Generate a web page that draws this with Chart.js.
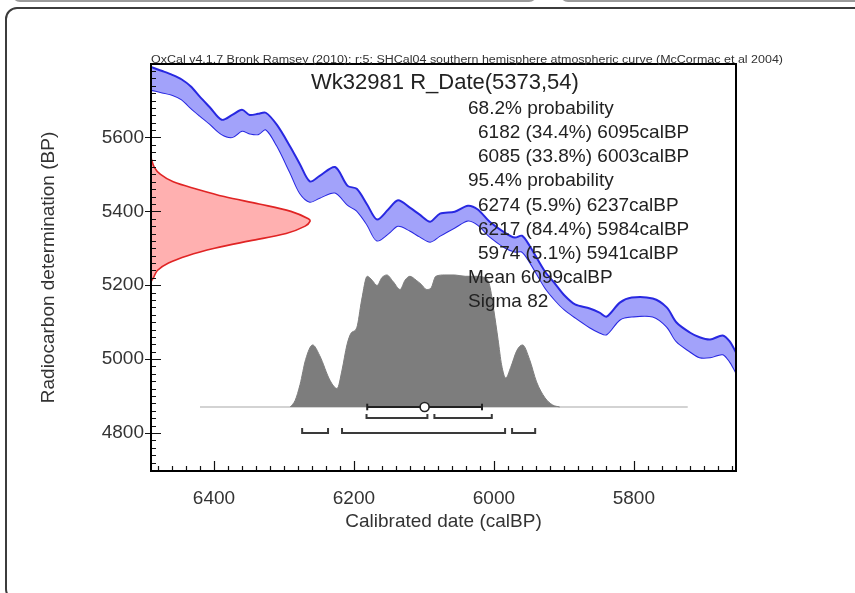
<!DOCTYPE html>
<html>
<head>
<meta charset="utf-8">
<title>Wk32981 R_Date(5373,54)</title>
<script src="https://cdn.jsdelivr.net/npm/chart.js@4.4.1/dist/chart.umd.min.js"></script>
<style>
  html, body { margin: 0; padding: 0; background: #fff; overflow: hidden; width: 855px; height: 593px; }
  #wrap { position: relative; width: 855px; height: 593px; overflow: hidden; }
  .tab { position: absolute; top: -20px; height: 20px; border: 2px solid #9a9a9a; border-top: none; border-radius: 0 0 8px 8px; }
  #frame { position: absolute; left: 5px; top: 7px; width: 900px; height: 590px; border: 2px solid #3c3c3c; border-radius: 12px; }
  canvas { position: absolute; left: 0; top: 0; }
</style>
</head>
<body>
<div id="wrap">
  <div class="tab" style="left:12px;width:521px"></div>
  <div class="tab" style="left:560px;width:330px"></div>
  <div id="frame"></div>
  <canvas id="c" width="855" height="593"></canvas>
</div>
<script>
// Sample and measurement
const sampleName = 'Wk32981';
const rDateBP = 5373;
const rDateSigma = 54;
const curveNote = 'OxCal v4.1.7 Bronk Ramsey (2010); r:5; SHCal04 southern hemisphere atmospheric curve (McCormac et al 2004)';

// Calibration curve band (calBP vs radiocarbon BP, upper / lower 1-sigma edges)
const calYears   = [6490, 6474, 6459, 6446, 6433, 6420, 6406, 6389, 6374, 6360, 6349, 6337, 6326, 6310, 6291, 6277, 6263, 6249, 6227, 6209, 6196, 6181, 6167, 6151, 6137, 6120, 6106, 6091, 6077, 6056, 6037, 6023, 6006, 5984, 5970, 5960, 5949, 5927, 5913, 5899, 5884, 5863, 5849, 5839, 5820, 5803, 5773, 5753, 5739, 5720, 5706, 5691, 5673, 5663, 5654];
const curveUpper = [5791, 5780, 5769, 5757, 5738, 5710, 5682, 5648, 5661, 5675, 5661, 5664, 5667, 5634, 5575, 5527, 5481, 5496, 5520, 5469, 5461, 5418, 5378, 5405, 5430, 5410, 5391, 5372, 5394, 5399, 5415, 5405, 5372, 5342, 5329, 5334, 5307, 5237, 5205, 5172, 5148, 5137, 5126, 5115, 5153, 5167, 5164, 5140, 5099, 5072, 5059, 5053, 5064, 5048, 5018];
const curveLower = [5729, 5722, 5715, 5703, 5680, 5659, 5637, 5609, 5601, 5618, 5611, 5609, 5622, 5578, 5505, 5449, 5426, 5437, 5451, 5418, 5402, 5364, 5321, 5340, 5361, 5348, 5332, 5318, 5334, 5356, 5375, 5364, 5332, 5302, 5291, 5291, 5264, 5194, 5161, 5134, 5113, 5086, 5072, 5067, 5107, 5115, 5115, 5088, 5048, 5021, 5005, 5005, 5013, 4994, 4964];

// Radiocarbon measurement probability (relative height) against BP
const rProbBP     = [5210, 5220, 5240, 5260, 5280, 5300, 5320, 5340, 5360, 5373, 5380, 5400, 5420, 5440, 5460, 5480, 5500, 5520, 5545];
const rProbHeight = [0, 0.015, 0.04, 0.11, 0.23, 0.40, 0.62, 0.85, 0.97, 1, 0.99, 0.88, 0.68, 0.46, 0.29, 0.14, 0.06, 0.02, 0];

// Calibrated probability distribution (relative height) against calBP
const calDistYears  = [6291, 6284, 6277, 6269, 6259, 6249, 6234, 6224, 6217, 6210, 6204, 6196, 6189, 6181, 6174, 6167, 6160, 6153, 6144, 6134, 6127, 6120, 6111, 6104, 6096, 6090, 6083, 6070, 6056, 6041, 6027, 6013, 6006, 6000, 5994, 5989, 5983, 5976, 5967, 5959, 5949, 5939, 5927, 5916, 5906];
const calDistHeight = [0, 0.05, 0.17, 0.36, 0.47, 0.39, 0.20, 0.14, 0.28, 0.47, 0.56, 0.60, 0.81, 0.99, 0.96, 0.92, 0.98, 1, 0.95, 0.89, 0.96, 0.99, 0.96, 0.93, 0.89, 0.90, 0.99, 1, 1, 0.99, 0.99, 0.98, 0.92, 0.73, 0.51, 0.32, 0.22, 0.30, 0.43, 0.47, 0.36, 0.19, 0.07, 0.015, 0];
const calDistSpan   = [6420, 5723];

// Summary statistics
const meanCalBP = 6099;
const sigmaCal = 82;
const range68 = [[6182, 6095, 34.4], [6085, 6003, 33.8]];
const range95 = [[6274, 6237, 5.9], [6217, 5984, 84.4], [5974, 5941, 5.1]];

// Axis ticks
const xTickValues = [6400, 6200, 6000, 5800];
const yTickValues = [4800, 5000, 5200, 5400, 5600];

const FONT = "'Liberation Sans', Arial, Helvetica, sans-serif";
Chart.defaults.font.family = FONT;

// rows (in distribution-height units) for the mean bar and range brackets
const ROW68 = -0.083, ROW68_TICK = -0.053;
const ROW95 = -0.197, ROW95_TICK = -0.159;
const BAR_TICK = 0.025;

function bracket(r, row, rowTick) {
  return {
    data: [{x: r[0], y: rowTick}, {x: r[0], y: row}, {x: r[1], y: row}, {x: r[1], y: rowTick}],
    xAxisID: 'x', yAxisID: 'yd', borderColor: '#3a3a3a', borderWidth: 2,
    pointRadius: 0, fill: false, tension: 0
  };
}

const datasets = [];
// mean marker
datasets.push({
  data: [{x: meanCalBP, y: 0}], xAxisID: 'x', yAxisID: 'yd', showLine: false,
  pointRadius: 4.5, pointBackgroundColor: '#fff', pointBorderColor: '#222', pointBorderWidth: 1.6
});
// mean +/- sigma bar with end ticks
datasets.push({
  data: [{x: meanCalBP + sigmaCal, y: 0}, {x: meanCalBP - sigmaCal, y: 0}],
  xAxisID: 'x', yAxisID: 'yd', borderColor: '#222', borderWidth: 2, pointRadius: 0, fill: false
});
[meanCalBP + sigmaCal, meanCalBP - sigmaCal].forEach(v => datasets.push({
  data: [{x: v, y: -BAR_TICK}, {x: v, y: BAR_TICK}],
  xAxisID: 'x', yAxisID: 'yd', borderColor: '#222', borderWidth: 2, pointRadius: 0, fill: false
}));
range68.forEach(r => datasets.push(bracket(r, ROW68, ROW68_TICK)));
range95.forEach(r => datasets.push(bracket(r, ROW95, ROW95_TICK)));
// calibrated distribution
datasets.push({
  data: calDistYears.map((v, i) => ({x: v, y: calDistHeight[i]})),
  xAxisID: 'x', yAxisID: 'yd', borderColor: '#7d7d7d', borderWidth: 1,
  backgroundColor: '#7d7d7d', fill: 'origin', pointRadius: 0, cubicInterpolationMode: 'monotone'
});
datasets.push({
  data: calDistSpan.map(v => ({x: v, y: 0})),
  xAxisID: 'x', yAxisID: 'yd', borderColor: '#c4c4c4', borderWidth: 1.5, pointRadius: 0, fill: false
});
// radiocarbon measurement on the BP axis
datasets.push({
  data: rProbBP.map((v, i) => ({x: rProbHeight[i], y: v})),
  xAxisID: 'xd', yAxisID: 'y', borderColor: '#e02424', borderWidth: 1.6,
  backgroundColor: 'rgb(255,176,176)', fill: 'shape', pointRadius: 0, tension: 0.35
});
// calibration curve band
datasets.push({
  data: calYears.map((v, i) => ({x: v, y: curveUpper[i]})),
  xAxisID: 'x', yAxisID: 'y', borderColor: 'rgb(40,40,225)', borderWidth: 2,
  backgroundColor: 'rgb(162,162,250)', fill: '+1', pointRadius: 0, tension: 0.3
});
datasets.push({
  data: calYears.map((v, i) => ({x: v, y: curveLower[i]})),
  xAxisID: 'x', yAxisID: 'y', borderColor: 'rgb(40,40,225)', borderWidth: 2,
  pointRadius: 0, fill: false, tension: 0.3
});

const frameTicks = {
  id: 'frameTicks',
  afterDatasetsDraw(chart) {
    const {ctx, chartArea: a, scales: {x, y}} = chart;
    ctx.save();
    ctx.strokeStyle = '#111';
    ctx.lineWidth = 1.2;
    ctx.beginPath();
    for (let v = Math.ceil(x.min / 20) * 20; v <= x.max; v += 20) {
      const px = Math.round(x.getPixelForValue(v)) + 0.5;
      const len = v % 200 === 0 ? 10 : 5;
      ctx.moveTo(px, a.bottom);
      ctx.lineTo(px, a.bottom - len);
    }
    for (let v = Math.ceil(y.min / 20) * 20; v <= y.max; v += 20) {
      const py = Math.round(y.getPixelForValue(v)) + 0.5;
      const major = v % 200 === 0;
      ctx.moveTo(a.left - (major ? 6 : 0), py);
      ctx.lineTo(a.left + (major ? 10 : 5), py);
    }
    ctx.stroke();
    ctx.lineWidth = 2;
    ctx.strokeStyle = '#000';
    ctx.strokeRect(a.left, a.top, a.right - a.left, a.bottom - a.top);
    ctx.restore();
  }
};

const annotations = {
  id: 'annotations',
  afterDraw(chart) {
    const {ctx, chartArea: a} = chart;
    ctx.save();
    // curve reference line above the plot
    ctx.font = '10px ' + FONT;
    ctx.fillStyle = '#333';
    ctx.textBaseline = 'alphabetic';
    ctx.textAlign = 'left';
    const w = ctx.measureText(curveNote).width;
    ctx.save();
    ctx.translate(a.left, a.top - 1);
    ctx.scale(632 / w, 1);
    ctx.fillText(curveNote, 0, 0);
    ctx.restore();
    // title
    ctx.font = '22px ' + FONT;
    ctx.fillStyle = '#222';
    ctx.textAlign = 'center';
    ctx.textBaseline = 'middle';
    ctx.fillText(sampleName + ' R_Date(' + rDateBP + ',' + rDateSigma + ')', a.left + 294, a.top + 19);
    // statistics
    const lines = [];
    lines.push(['68.2% probability', 0]);
    range68.forEach(r => lines.push([r[0] + ' (' + r[2].toFixed(1) + '%) ' + r[1] + 'calBP', 10]));
    lines.push(['95.4% probability', 0]);
    range95.forEach(r => lines.push([r[0] + ' (' + r[2].toFixed(1) + '%) ' + r[1] + 'calBP', 10]));
    lines.push(['Mean ' + meanCalBP + 'calBP', 0]);
    lines.push(['Sigma ' + sigmaCal, 0]);
    ctx.font = '19px ' + FONT;
    ctx.textAlign = 'left';
    lines.forEach((l, i) => ctx.fillText(l[0], a.left + 317 + l[1], a.top + 44.5 + i * 24.2));
    ctx.restore();
  }
};

new Chart(document.getElementById('c'), {
  type: 'line',
  data: {datasets},
  plugins: [frameTicks, annotations],
  options: {
    responsive: false,
    animation: false,
    devicePixelRatio: 1,
    layout: {padding: {left: 0, top: 64, right: 119, bottom: 0}},
    plugins: {legend: {display: false}, tooltip: {enabled: false}},
    scales: {
      x: {
        type: 'linear', position: 'bottom', reverse: true, min: 5654, max: 6490,
        afterBuildTicks: s => { s.ticks = xTickValues.map(v => ({value: v})); },
        afterFit: s => { s.height = 122; },
        grid: {display: false, drawTicks: false},
        border: {display: false},
        ticks: {padding: 16, color: '#333', font: {size: 19}, maxRotation: 0, autoSkip: false, callback: v => String(v)},
        title: {display: true, text: 'Calibrated date (calBP)', color: '#333', font: {size: 19}, padding: {top: 0, bottom: 59.6}}
      },
      y: {
        type: 'linear', position: 'left', min: 4697, max: 5799,
        afterBuildTicks: s => { s.ticks = yTickValues.map(v => ({value: v})); },
        afterFit: s => { s.width = 151; },
        grid: {display: false, drawTicks: false},
        border: {display: false},
        ticks: {padding: 7, color: '#333', font: {size: 19}, autoSkip: false, callback: v => String(v)},
        title: {display: true, text: 'Radiocarbon determination (BP)', color: '#333', font: {size: 19}, padding: {top: 37.6, bottom: 0}}
      },
      xd: {type: 'linear', display: false, min: 0, max: 3.68},
      yd: {type: 'linear', display: false, min: -0.4848, max: 2.598}
    }
  }
});
</script>
</body>
</html>
